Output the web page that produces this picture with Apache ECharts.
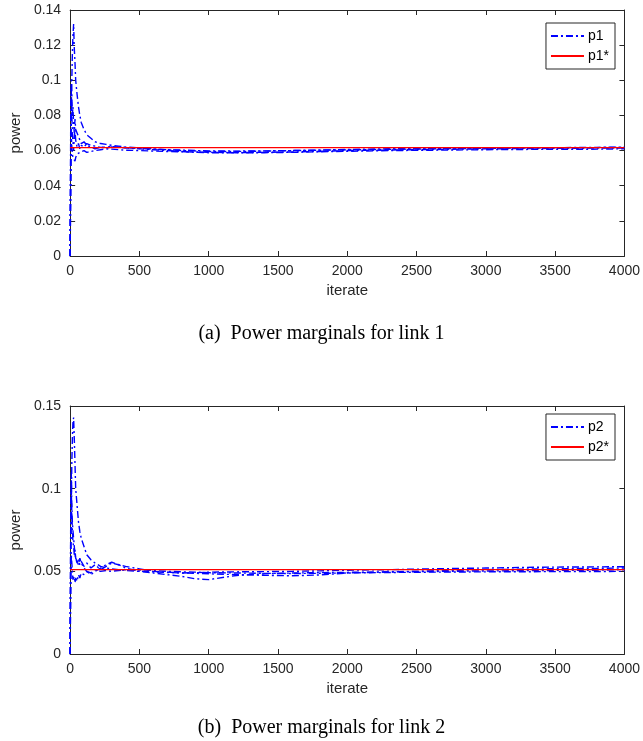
<!DOCTYPE html>
<html>
<head>
<meta charset="utf-8">
<script src="https://cdn.jsdelivr.net/npm/echarts@6/dist/echarts.min.js"></script>
<style>html,body{margin:0;padding:0;background:#fff;}#c{width:643px;height:741px;}</style>
</head>
<body>
<div id="c"></div>
<script>
// shared iteration grid for all runs
const iters = [0,4,8,12,16,20,25,30,35,40,50,60,70,80,100,120,150,180,220,260,300,350,400,500,600,700,800,900,1000,1200,1400,1600,1800,2000,2300,2600,3000,3400,3800,4000];

// link 1 power runs
const p1RunA = [0,0.035,0.08,0.1,0.115,0.125,0.132,0.118,0.11,0.1,0.092,0.085,0.08,0.076,0.072,0.069,0.067,0.065,0.064,0.0635,0.063,0.0625,0.062,0.0615,0.061,0.0605,0.06,0.0598,0.0595,0.0595,0.0597,0.06,0.0602,0.0604,0.0607,0.061,0.0613,0.0616,0.0618,0.062];
const p1RunB = [0,0.06,0.1,0.09,0.08,0.085,0.075,0.07,0.078,0.072,0.07,0.068,0.066,0.064,0.065,0.063,0.062,0.061,0.062,0.0615,0.062,0.0618,0.0615,0.061,0.0605,0.06,0.0595,0.059,0.0588,0.0588,0.059,0.0592,0.0595,0.06,0.0603,0.0606,0.061,0.0612,0.0614,0.0615];
const p1RunC = [0,0.05,0.07,0.062,0.058,0.056,0.055,0.057,0.054,0.056,0.058,0.057,0.059,0.058,0.06,0.059,0.0595,0.06,0.0605,0.061,0.0608,0.0605,0.0602,0.06,0.0597,0.0595,0.0593,0.0592,0.059,0.0588,0.0588,0.059,0.0593,0.0596,0.06,0.0602,0.0605,0.0607,0.0608,0.061];
const p1RunD = [0,0.075,0.095,0.08,0.07,0.065,0.06,0.068,0.072,0.066,0.062,0.064,0.061,0.063,0.062,0.064,0.063,0.0625,0.0618,0.062,0.0622,0.062,0.0617,0.0612,0.0608,0.0605,0.0603,0.06,0.0598,0.0597,0.0598,0.06,0.0603,0.0606,0.061,0.0612,0.0614,0.0616,0.0617,0.0618];
const p1Star = 0.0617;

// link 2 power runs
const p2RunA = [0,0.04,0.09,0.115,0.13,0.14,0.143,0.13,0.115,0.1,0.09,0.08,0.074,0.07,0.065,0.06,0.057,0.055,0.053,0.052,0.0515,0.051,0.0505,0.05,0.0497,0.0493,0.049,0.0488,0.0485,0.048,0.0476,0.0473,0.0478,0.049,0.0497,0.0503,0.051,0.0515,0.0518,0.052];
const p2RunB = [0,0.07,0.11,0.09,0.08,0.075,0.07,0.065,0.06,0.058,0.055,0.057,0.054,0.056,0.053,0.055,0.052,0.054,0.051,0.053,0.055,0.054,0.052,0.05,0.049,0.048,0.047,0.0455,0.045,0.0475,0.0485,0.049,0.0492,0.0494,0.0496,0.0499,0.0502,0.0505,0.0507,0.051];
const p2RunC = [0,0.05,0.06,0.055,0.05,0.045,0.044,0.047,0.043,0.046,0.044,0.048,0.046,0.049,0.048,0.05,0.049,0.051,0.05,0.0505,0.05,0.0505,0.051,0.0508,0.0505,0.05,0.0497,0.0495,0.0492,0.049,0.0488,0.0487,0.0488,0.049,0.0493,0.0495,0.0497,0.0498,0.0499,0.05];
const p2RunD = [0,0.08,0.1,0.085,0.075,0.068,0.065,0.06,0.063,0.058,0.056,0.054,0.058,0.055,0.052,0.05,0.048,0.05,0.052,0.054,0.0555,0.054,0.053,0.0515,0.05,0.0495,0.049,0.0492,0.0495,0.0497,0.0498,0.05,0.0503,0.0507,0.051,0.0515,0.052,0.0525,0.0527,0.0528];
const p2Star = 0.051;

const xMax = 4000;
const captions = ['(a)  Power marginals for link 1', '(b)  Power marginals for link 2'];

const axisColor = '#262626';
const font = 'Liberation Sans, Arial, sans-serif';
const serif = 'Liberation Serif, Times New Roman, serif';
const dashDot = [7, 3, 2, 3];

function pairs(ys) { return ys.map((v, i) => [iters[i], v]); }

function xAx(grid, pos, main) {
  return {
    type: 'value', gridIndex: grid, position: pos, min: 0, max: xMax, interval: 500,
    name: main ? 'iterate' : '', nameLocation: 'middle', nameGap: 27,
    nameTextStyle: { color: axisColor, fontFamily: font, fontSize: 15 },
    axisLine: { show: true, onZero: false, lineStyle: { color: axisColor, width: 1 } },
    axisTick: { show: true, inside: true, length: 5, lineStyle: { color: axisColor } },
    axisLabel: { show: main, color: axisColor, fontFamily: font, fontSize: 14, margin: 8, showMaxLabel: true,
                 formatter: v => String(v) },
    splitLine: { show: false }
  };
}
function yAx(grid, pos, main, max, interval) {
  return {
    type: 'value', gridIndex: grid, position: pos, min: 0, max: max, interval: interval,
    name: main ? 'power' : '', nameLocation: 'middle', nameGap: 41, nameRotate: 90,
    nameTextStyle: { color: axisColor, fontFamily: font, fontSize: 15 },
    axisLine: { show: true, onZero: false, lineStyle: { color: axisColor, width: 1 } },
    axisTick: { show: true, inside: true, length: 5, lineStyle: { color: axisColor } },
    axisLabel: { show: main, color: axisColor, fontFamily: font, fontSize: 14, margin: 9 },
    splitLine: { show: false }
  };
}
function runSeries(name, ys, axIdx) {
  return {
    name: name, type: 'line', xAxisIndex: axIdx, yAxisIndex: axIdx, data: pairs(ys),
    showSymbol: false, symbol: 'none', animation: false, z: 2,
    lineStyle: { color: '#0000ff', width: 1.4, type: dashDot }, itemStyle: { color: '#0000ff' }
  };
}
function starSeries(name, v, axIdx) {
  return {
    name: name, type: 'line', xAxisIndex: axIdx, yAxisIndex: axIdx, data: [[0, v], [xMax, v]],
    showSymbol: false, symbol: 'none', animation: false, z: 3,
    lineStyle: { color: '#ff0000', width: 1.2, type: 'solid' }, itemStyle: { color: '#ff0000' }
  };
}

const chart = echarts.init(document.getElementById('c'), null, { renderer: 'canvas' });
const legendCommon = {
  orient: 'vertical', backgroundColor: '#fff', borderColor: axisColor, borderWidth: 1,
  padding: [6, 6, 6, 4], itemGap: 6, itemWidth: 33, itemHeight: 14,
  itemStyle: { opacity: 0 },
  textStyle: { color: '#000', fontFamily: font, fontSize: 14, padding: [0, 0, 0, -1] }
};
chart.setOption({
  animation: false,
  textStyle: { fontFamily: font },
  title: [
    { text: captions[0], left: 'center', top: 324, textStyle: { fontFamily: serif, fontWeight: 'normal', fontSize: 20, color: '#000' }, padding: 0 },
    { text: captions[1], left: 'center', top: 718, textStyle: { fontFamily: serif, fontWeight: 'normal', fontSize: 20, color: '#000' }, padding: 0 }
  ],
  legend: [
    Object.assign({}, legendCommon, { data: ['p1', 'p1*'], right: 28, top: 23 }),
    Object.assign({}, legendCommon, { data: ['p2', 'p2*'], right: 28, top: 414 })
  ],
  grid: [
    { left: 69, right: 14, top: 10, height: 246 },
    { left: 69, right: 14, top: 406, height: 248 }
  ],
  xAxis: [xAx(0, 'bottom', true), xAx(1, 'bottom', true), xAx(0, 'top', false), xAx(1, 'top', false)],
  yAxis: [yAx(0, 'left', true, 0.14, 0.02), yAx(1, 'left', true, 0.15, 0.05), yAx(0, 'right', false, 0.14, 0.02), yAx(1, 'right', false, 0.15, 0.05)],
  series: [
    runSeries('p1', p1RunA, 0), runSeries('p1', p1RunB, 0), runSeries('p1', p1RunC, 0), runSeries('p1', p1RunD, 0),
    starSeries('p1*', p1Star, 0),
    runSeries('p2', p2RunA, 1), runSeries('p2', p2RunB, 1), runSeries('p2', p2RunC, 1), runSeries('p2', p2RunD, 1),
    starSeries('p2*', p2Star, 1)
  ]
});
</script>
</body>
</html>
